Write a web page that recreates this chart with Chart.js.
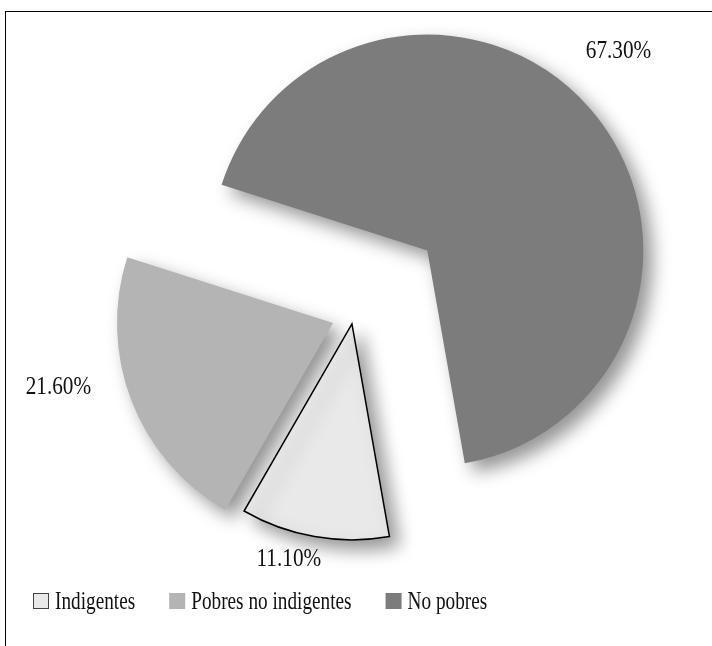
<!DOCTYPE html>
<html>
<head>
<meta charset="utf-8">
<script src="https://cdn.jsdelivr.net/npm/chart.js@4.4.0/dist/chart.umd.min.js"></script>
<style>
  html, body { margin: 0; padding: 0; background: #fff; overflow: hidden; }
  #frame { position: absolute; left: 5px; top: 11px; width: 900px; height: 900px; border: 1.5px solid #000; }
  #wrap { position: absolute; left: 0; top: 0; width: 712px; height: 646px; }
</style>
</head>
<body>
<div id="frame"></div>
<div id="wrap"><canvas id="pie-chart"></canvas></div>
<script>
// Chart data
const categories = ['Indigentes', 'Pobres no indigentes', 'No pobres'];
const shares = [11.1, 21.6, 67.3];
const shareLabels = ['11.10%', '21.60%', '67.30%'];
const sliceColors = ['#e9e9e9', '#b4b4b4', '#7b7c7b'];

const serif = "'Liberation Serif', 'Times New Roman', serif";

// Draw text squeezed horizontally (the original uses a narrow Times)
function narrowText(ctx, text, x, y, squeeze) {
  ctx.save();
  ctx.translate(x, y);
  ctx.scale(squeeze, 1);
  ctx.fillText(text, 0, 0);
  ctx.restore();
  return ctx.measureText(text).width * squeeze;
}

// Pulls each slice away from the centre by its own distance
const explodePlugin = {
  id: 'explode',
  afterDatasetUpdate(chart, args, opts) {
    const meta = chart.getDatasetMeta(args.index);
    meta.data.forEach((arc, i) => {
      const mid = (arc.startAngle + arc.endAngle) / 2;
      const d = opts.distances[i] || 0;
      arc.x += Math.cos(mid) * d;
      arc.y += Math.sin(mid) * d;
    });
  }
};

// Soft drop shadow and custom draw order
const shadowPlugin = {
  id: 'sliceShadow',
  beforeDatasetDraw(chart, args, opts) {
    const ctx = chart.ctx;
    const meta = chart.getDatasetMeta(args.index);
    ctx.save();
    ctx.shadowColor = opts.color;
    ctx.shadowBlur = opts.blur;
    ctx.shadowOffsetX = opts.offsetX;
    ctx.shadowOffsetY = opts.offsetY;
    opts.order.forEach(i => meta.data[i].draw(ctx, chart.chartArea));
    ctx.restore();
    return false;
  }
};

// Percentage labels outside each slice
const labelPlugin = {
  id: 'sliceLabels',
  afterDatasetsDraw(chart, args, opts) {
    const ctx = chart.ctx;
    const meta = chart.getDatasetMeta(0);
    ctx.save();
    ctx.font = opts.font;
    ctx.fillStyle = '#111';
    ctx.textAlign = 'center';
    ctx.textBaseline = 'middle';
    meta.data.forEach((arc, i) => {
      const place = opts.place[i];
      const a = (arc.startAngle + arc.endAngle) / 2 + place.turn * Math.PI / 180;
      const r = arc.outerRadius + place.out;
      narrowText(ctx, shareLabels[i], arc.x + Math.cos(a) * r, arc.y + Math.sin(a) * r, opts.squeeze);
    });
    ctx.restore();
  }
};

// Legend row under the pie
const legendPlugin = {
  id: 'narrowLegend',
  afterDraw(chart, args, opts) {
    const ctx = chart.ctx;
    const ds = chart.data.datasets[0];
    const y = chart.chartArea.bottom + opts.top;
    let x = opts.left;
    ctx.save();
    ctx.font = opts.font;
    ctx.textAlign = 'left';
    ctx.textBaseline = 'middle';
    chart.data.labels.forEach((label, i) => {
      ctx.fillStyle = ds.backgroundColor[i];
      ctx.fillRect(x, y - opts.box / 2, opts.box, opts.box);
      if (i === 0) {
        ctx.strokeStyle = '#444';
        ctx.lineWidth = 1;
        ctx.strokeRect(x + 0.5, y - opts.box / 2 + 0.5, opts.box - 1, opts.box - 1);
      }
      ctx.fillStyle = '#111';
      const w = narrowText(ctx, label, x + opts.box + opts.textGap, y + 1, opts.squeeze);
      x += opts.box + opts.textGap + w + opts.itemGap;
    });
    ctx.restore();
  }
};

const ctx = document.getElementById('pie-chart').getContext('2d');
new Chart(ctx, {
  type: 'pie',
  data: {
    labels: categories,
    datasets: [{
      data: shares,
      backgroundColor: sliceColors,
      borderColor: '#000',
      borderWidth: [1.5, 0, 0],
      borderJoinStyle: 'miter'
    }]
  },
  options: {
    responsive: true,
    maintainAspectRatio: false,
    animation: false,
    rotation: 170,
    radius: 216,
    layout: { padding: { top: 71, bottom: 87, left: 0, right: 5 } },
    plugins: {
      explode: { distances: [9, 22, 98] },
      sliceShadow: { color: 'rgba(0,0,0,0.42)', blur: 18, offsetX: 9, offsetY: 9, order: [1, 0, 2] },
      sliceLabels: {
        font: '25px ' + serif,
        squeeze: 0.85,
        place: [
          { turn: 5, out: 28 },
          { turn: 8, out: 66 },
          { turn: -5, out: 60 }
        ]
      },
      narrowLegend: {
        font: '25px ' + serif,
        squeeze: 0.77,
        top: 42,
        left: 33,
        box: 16,
        textGap: 6,
        itemGap: 34
      },
      tooltip: { enabled: false },
      legend: { display: false }
    }
  },
  plugins: [explodePlugin, shadowPlugin, labelPlugin, legendPlugin]
});
</script>
</body>
</html>
